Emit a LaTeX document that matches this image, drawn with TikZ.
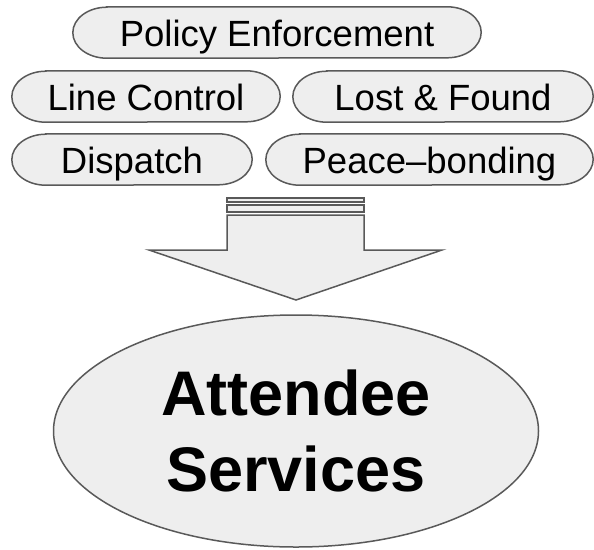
\documentclass[tikz,border=0pt]{standalone}
\usepackage{fontspec}
\setmainfont{Liberation Sans}
\usetikzlibrary{shapes.geometric,backgrounds}

\definecolor{boxfill}{HTML}{EEEEEE}
\definecolor{boxline}{HTML}{595959}

\tikzset{
  pilltext/.style={inner sep=0pt, minimum height=51pt,
    text height=28pt, text depth=0pt,
    font=\fontsize{36.5}{40}\selectfont},
  pillline/.style={draw=boxline, fill=boxfill, line width=1.5pt},
  blockarrow/.style={draw=boxline, fill=boxfill, line width=1.5pt, line join=miter}
}

% capsule with elliptic ends round a node
\newcommand\pillround[1]{%
  \path[pillline] ([xshift=34pt]#1.north west) -- ([xshift=-34pt]#1.north east)
    arc[start angle=90, end angle=-90, x radius=34pt, y radius=25.5pt]
    -- ([xshift=34pt]#1.south west)
    arc[start angle=270, end angle=90, x radius=34pt, y radius=25.5pt] -- cycle;}

\begin{document}
\begin{tikzpicture}[x=1pt, y=-1pt]
      \useasboundingbox (0,0) rectangle (594,549);
      \node[pilltext, minimum width=408pt] (pe) at (277,32.5) {Policy Enforcement};
      \node[pilltext, minimum width=268pt] (lc) at (146,96.5) {Line Control};
      \node[pilltext, minimum width=300pt] (lf) at (443,96.5) {Lost \& Found};
      \node[pilltext, minimum width=240pt] (di) at (132,159.5) {Dispatch};
      \node[pilltext, minimum width=327pt] (pb) at (429.5,159.5) {Peace--bonding};
      \begin{scope}[on background layer]
       \foreach \n in {pe,lc,lf,di,pb} {\pillround{\n}}
      \end{scope}
      % the block arrow with its two bars
      \path[blockarrow] (227,198) rectangle (364,202);
      \path[blockarrow] (227,205) rectangle (364,212);
      \path[blockarrow] (227,215) -- (364,215) -- (364,250) -- (442,250)
        -- (296,300) -- (149,250) -- (227,250) -- cycle;
      \node[ellipse, draw=boxline, fill=boxfill, line width=1.5pt, inner sep=0pt,
        minimum width=485pt, minimum height=232pt, align=center,
        font=\fontsize{63}{76}\selectfont\bfseries] (att) at (296,431)
        {Attendee\\Services};
\end{tikzpicture}
\end{document}
